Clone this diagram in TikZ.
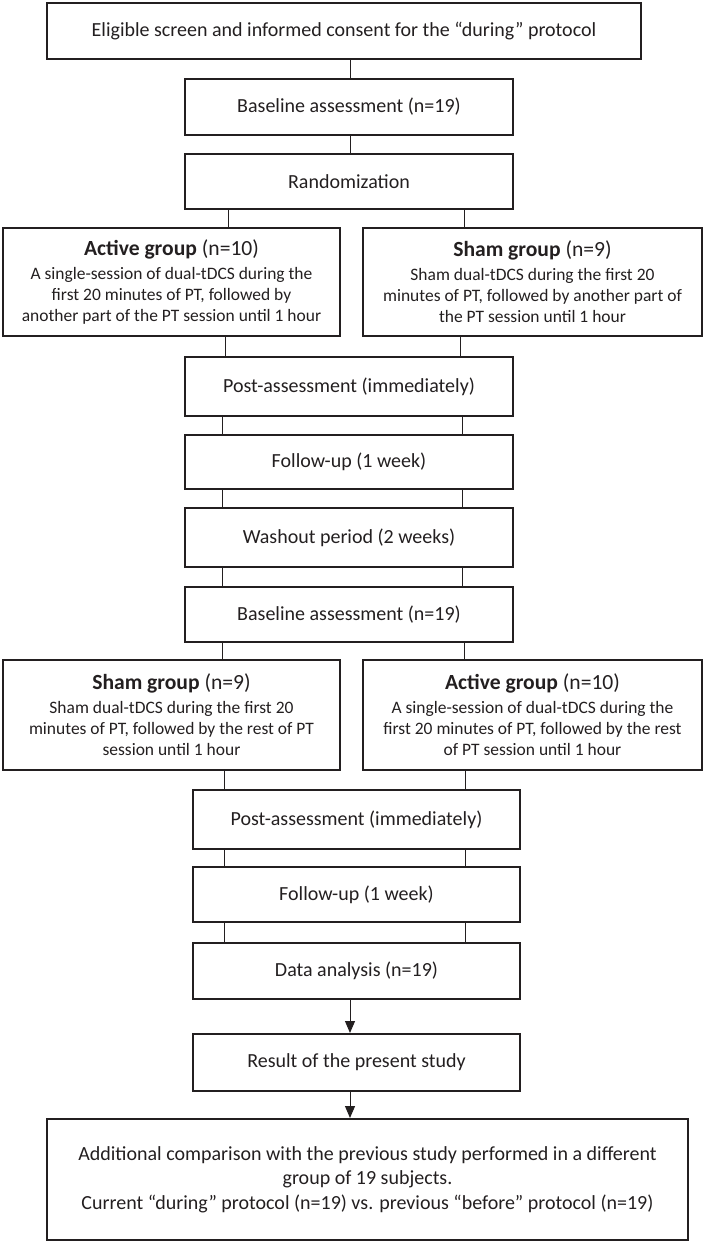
\documentclass[tikz,border=0pt]{standalone}
\usepackage{fontspec}
\setmainfont{Carlito}
\usetikzlibrary{arrows.meta}
\definecolor{ink}{HTML}{231F20}
\begin{document}
\begin{tikzpicture}[x=0.75pt,y=-0.75pt,
  box/.style={draw=ink,line width=1.5pt,inner sep=0pt,align=center,text=ink,
    font=\fontsize{15}{18.3}\selectfont},
  grp/.style={box,font=\fontsize{13.1}{15.8}\selectfont},
  link/.style={draw=ink,line width=0.75pt},
  arr/.style={draw=ink,line width=0.75pt,-{Triangle[width=7.5pt,length=9pt]}}]
\useasboundingbox (0,0) rectangle (704,1242);
\newcommand{\grphead}[2]{{\fontsize{16.2}{16.2}\selectfont\textbf{#1} (#2)}\\[2pt]}
% boxes
\node[box,minimum width=445.5pt,minimum height=42pt] (b1) at (344,31)
  {Eligible screen and informed consent for the “during” protocol};
\node[box,minimum width=246pt,minimum height=42pt] (base1) at (349,107)
  {Baseline assessment (n=19)};
\node[box,minimum width=246pt,minimum height=41.25pt] (rand) at (349,181.5)
  {Randomization};
\node[grp,minimum width=252.75pt,minimum height=81pt] (act1) at (171.5,282)
  {\grphead{Active group}{n=10}A single-session of dual-tDCS during the\\first 20 minutes of PT, followed by\\another part of the PT session until 1 hour};
\node[grp,minimum width=254.25pt,minimum height=81pt] (sham1) at (532.5,282)
  {\grphead{Sham group}{n=9}Sham dual-tDCS during the first 20\\minutes of PT, followed by another part of\\the PT session until 1 hour};
\node[box,minimum width=246pt,minimum height=44.25pt] (post1) at (349,386.5)
  {Post-assessment (immediately)};
\node[box,minimum width=246pt,minimum height=40.5pt] (fu1) at (349,462)
  {Follow-up (1 week)};
\node[box,minimum width=246pt,minimum height=44.25pt] (wash) at (349,537.5)
  {Washout period (2 weeks)};
\node[box,minimum width=246pt,minimum height=41.25pt] (base2) at (349,614.5)
  {Baseline assessment (n=19)};
\node[grp,minimum width=252.75pt,minimum height=82.5pt] (sham2) at (171.5,715)
  {\grphead{Sham group}{n=9}Sham dual-tDCS during the first 20\\minutes of PT, followed by the rest of PT\\session until 1 hour};
\node[grp,minimum width=254.25pt,minimum height=82.5pt] (act2) at (532.5,715)
  {\grphead{Active group}{n=10}A single-session of dual-tDCS during the\\first 20 minutes of PT, followed by the rest\\of PT session until 1 hour};
\node[box,minimum width=245.25pt,minimum height=44.25pt] (post2) at (356.5,819.5)
  {Post-assessment (immediately)};
\node[box,minimum width=245.25pt,minimum height=41.25pt] (fu2) at (356.5,894.5)
  {Follow-up (1 week)};
\node[box,minimum width=245.25pt,minimum height=42pt] (data) at (356.5,971)
  {Data analysis (n=19)};
\node[box,minimum width=245.25pt,minimum height=42.75pt] (res) at (356.5,1062.5)
  {Result of the present study};
\node[box,minimum width=480.75pt,minimum height=90.75pt] (add) at (367.5,1179.5)
  {Additional comparison with the previous study performed in a different\\group of 19 subjects.\\Current “during” protocol (n=19) vs. previous “before” protocol (n=19)};
% connector x positions
\coordinate (xc) at (350,0);
\coordinate (xl1) at (228,0);
\coordinate (xr1) at (464,0);
\coordinate (xl2) at (225,0);
\coordinate (xr2) at (460,0);
\coordinate (xl3) at (222,0);
\coordinate (xr3) at (462,0);
\coordinate (xl4) at (224,0);
\coordinate (xr4) at (465,0);
% connectors
\draw[link] (b1.south -| xc) -- (base1.north -| xc);
\draw[link] (base1.south -| xc) -- (rand.north -| xc);
\draw[link] (rand.south -| xl1) -- (act1.north -| xl1);
\draw[link] (rand.south -| xr1) -- (sham1.north -| xr1);
\draw[link] (act1.south -| xl2) -- (post1.north -| xl2);
\draw[link] (sham1.south -| xr2) -- (post1.north -| xr2);
\draw[link] (post1.south -| xl3) -- (fu1.north -| xl3);
\draw[link] (post1.south -| xr3) -- (fu1.north -| xr3);
\draw[link] (fu1.south -| xl3) -- (wash.north -| xl3);
\draw[link] (fu1.south -| xr3) -- (wash.north -| xr3);
\draw[link] (wash.south -| xl3) -- (base2.north -| xl3);
\draw[link] (wash.south -| xr3) -- (base2.north -| xr3);
\draw[link] (base2.south -| xl3) -- (sham2.north -| xl3);
\draw[link] (base2.south -| xr1) -- (act2.north -| xr1);
\draw[link] (sham2.south -| xl4) -- (post2.north -| xl4);
\draw[link] (act2.south -| xr4) -- (post2.north -| xr4);
\draw[link] (post2.south -| xl4) -- (fu2.north -| xl4);
\draw[link] (post2.south -| xr4) -- (fu2.north -| xr4);
\draw[link] (fu2.south -| xl4) -- (data.north -| xl4);
\draw[link] (fu2.south -| xr4) -- (data.north -| xr4);
\draw[arr] (data.south -| xc) -- (res.north -| xc);
\draw[arr] (res.south -| xc) -- (add.north -| xc);
\end{tikzpicture}
\end{document}
